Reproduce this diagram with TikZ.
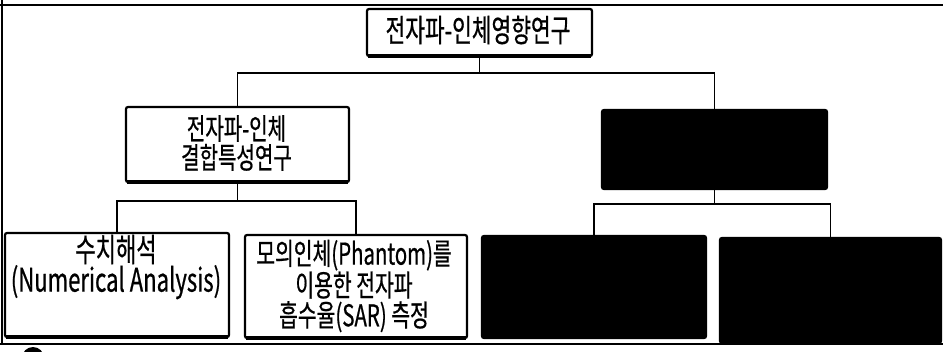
\documentclass[tikz,border=0pt]{standalone}
\usepackage{fontspec}
\newfontfamily\kr[FakeStretch=0.68,FakeBold=0.6]{Noto Sans CJK KR}
\begin{document}
\begin{tikzpicture}[x=1pt,y=-1pt,
  wbox/.style={draw=black,line width=2.2pt,fill=white,rounded corners=2pt,inner sep=0pt},
  bbox/.style={draw=black,line width=2.2pt,fill=black,rounded corners=2pt,inner sep=0pt},
  txt/.style={align=center,inner sep=0pt,text=black},
  conn/.style={line width=1.8pt,draw=black},
  rule/.style={line width=1.6pt,draw=black}]
\useasboundingbox (0,0) rectangle (943,351);
% frame lines
\coordinate (tl) at (0,5);
\coordinate (tr) at (943,5);
\coordinate (bl) at (0,344);
\coordinate (br) at (943,344);
\coordinate (vl) at (2,0);
\coordinate (vb) at (2,344);
\draw[rule] (tl) -- (tr);
\draw[rule,line width=2.2pt] (bl) -- (br);
\draw[rule,line width=2pt] (vl) -- (vb);
\fill[black] (33,358) circle (11);
% boxes
\node[wbox,minimum width=225,minimum height=47] (T) at (479.5,32.5) {};
\node[wbox,minimum width=223,minimum height=75] (L) at (237.5,144.5) {};
\node[bbox,minimum width=225,minimum height=79] (R) at (714.5,149.5) {};
\node[wbox,minimum width=224,minimum height=104] (B1) at (117,285) {};
\node[wbox,minimum width=222,minimum height=103] (B2) at (356,286.5) {};
\node[bbox,minimum width=224,minimum height=102] (B3) at (594,287) {};
\node[bbox,minimum width=221,minimum height=105] (B4) at (830.5,290.5) {};
% shadow edges
\foreach \n in {T,L,B1,B2} {
  \draw[line width=4pt] ([xshift=2pt,yshift=1pt]\n.south west) -- ([xshift=-2pt,yshift=1pt]\n.south east);
}
% texts
\node[txt,font=\kr\fontsize{31.5}{30}\selectfont] (tT) at (478,30) {전자파-인체영향연구};
\node[txt,font=\kr\fontsize{29.5}{29}\selectfont] (tL) at (236.5,143) {전자파-인체\\결합특성연구};
\node[txt,font=\kr\fontsize{32.5}{30}\selectfont] (tB1) at (116,267) {수치해석\\(Numerical Analysis)};
\node[txt,font=\kr\fontsize{30}{30}\selectfont] (tB2) at (354,286) {모의인체(Phantom)를\\이용한 전자파\\흡수율(SAR) 측정};
% connectors
\draw[conn] (T.south) -- ++(0,16) coordinate (j1);
\draw[conn] (L.north) |- (j1) -| (R.north);
\draw[conn] (L.south) -- ++(0,18) coordinate (j2);
\draw[conn] (B1.north) |- (j2) -| (B2.north);
\draw[conn] (R.south) -- ++(0,14) coordinate (j3);
\draw[conn] (B3.north) |- (j3) -| (B4.north);
\end{tikzpicture}
\end{document}
